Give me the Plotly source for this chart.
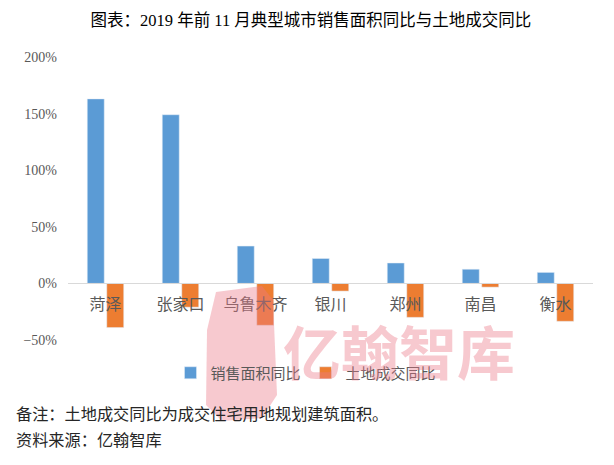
import plotly.graph_objects as go

categories = ["菏泽", "张家口", "乌鲁木齐", "银川", "郑州", "南昌", "衡水"]
sales_area_yoy = [1.63, 1.49, 0.33, 0.22, 0.18, 0.125, 0.097]
land_deal_yoy = [-0.39, -0.21, -0.37, -0.068, -0.30, -0.033, -0.335]
y_tick_vals = [-0.5, 0, 0.5, 1.0, 1.5, 2.0]

series_names = ["销售面积同比", "土地成交同比"]
title_text = "图表：2019 年前 11 月典型城市销售面积同比与土地成交同比"
note_text = "备注：土地成交同比为成交住宅用地规划建筑面积。"
source_text = "资料来源：亿翰智库"
watermark_text = "亿翰智库"

# the page body adds an 8px offset, so the figure is drawn 8px smaller
OFF = 8
W, H = 614 - OFF, 465 - OFF
L, R, T, B = 68 - OFF, 21, 57 - OFF, 125
PW, PH = W - L - R, H - T - B


def px(x):
    return (x - OFF - L) / PW


def py(y):
    return (H - B - (y - OFF)) / PH


CJK = "Noto Sans CJK SC"
SERIF = "Liberation Serif, Noto Sans CJK SC"

fig = go.Figure()
fig.add_trace(go.Bar(x=categories, y=sales_area_yoy, name=series_names[0],
                     marker_color="#5B9BD5"))
fig.add_trace(go.Bar(x=categories, y=land_deal_yoy, name=series_names[1],
                     marker_color="#ED7D31"))

# watermark logo
logo_pts = [(216, 292), (262, 286), (273, 300), (277, 395), (262, 418),
            (222, 421), (206, 405), (207, 330)]
path = "M " + " L ".join(f"{px(x):.4f},{py(y):.4f}" for x, y in logo_pts) + " Z"
shapes = [dict(type="path", path=path, xref="paper", yref="paper",
               fillcolor="rgba(236,120,135,0.40)", line=dict(width=0), layer="above")]

annotations = [
    dict(text=watermark_text, xref="paper", yref="paper", x=px(399), y=py(350),
         xanchor="center", yanchor="middle", showarrow=False,
         font=dict(family=CJK, size=58, color="rgba(236,120,135,0.40)", weight="bold")),
    dict(text=note_text, xref="paper", yref="paper", x=px(14), y=py(413),
         xanchor="left", yanchor="middle", showarrow=False,
         font=dict(family=CJK, size=16.2, color="#262626")),
    dict(text=source_text, xref="paper", yref="paper", x=px(14), y=py(439),
         xanchor="left", yanchor="middle", showarrow=False,
         font=dict(family=CJK, size=16.2, color="#262626")),
]

fig.update_layout(
    width=W, height=H,
    margin=dict(l=L, r=R, t=T, b=B, pad=0, autoexpand=False),
    paper_bgcolor="white", plot_bgcolor="white",
    barmode="group", bargap=0.48, bargroupgap=0.13,
    title=dict(text=title_text, x=(311 - OFF) / W, xref="container", xanchor="center",
               y=1 - 12 / H, yref="container", yanchor="middle",
               font=dict(family=SERIF, size=16.5, color="#000000")),
    xaxis=dict(anchor="free", position=0.2, showgrid=False, automargin=False,
               showline=True, linecolor="#d9d9d9", linewidth=1, ticks="",
               ticklabelstandoff=6,
               tickfont=dict(family=CJK, size=16, color="#595959")),
    yaxis=dict(range=[-0.5, 2.0], tickvals=y_tick_vals, tickformat=".0%",
               showgrid=False, zeroline=False, showline=False, ticks="",
               ticklabelstandoff=10, automargin=False,
               tickfont=dict(family=SERIF, size=14, color="#595959")),
    legend=dict(orientation="h", x=px(306), xanchor="center", y=py(373),
                yanchor="middle", font=dict(family=CJK, size=15, color="#595959"),
                itemwidth=30, tracegroupgap=0, bgcolor="rgba(0,0,0,0)"),
    shapes=shapes,
    annotations=annotations,
)

fig.write_html("out.html")
